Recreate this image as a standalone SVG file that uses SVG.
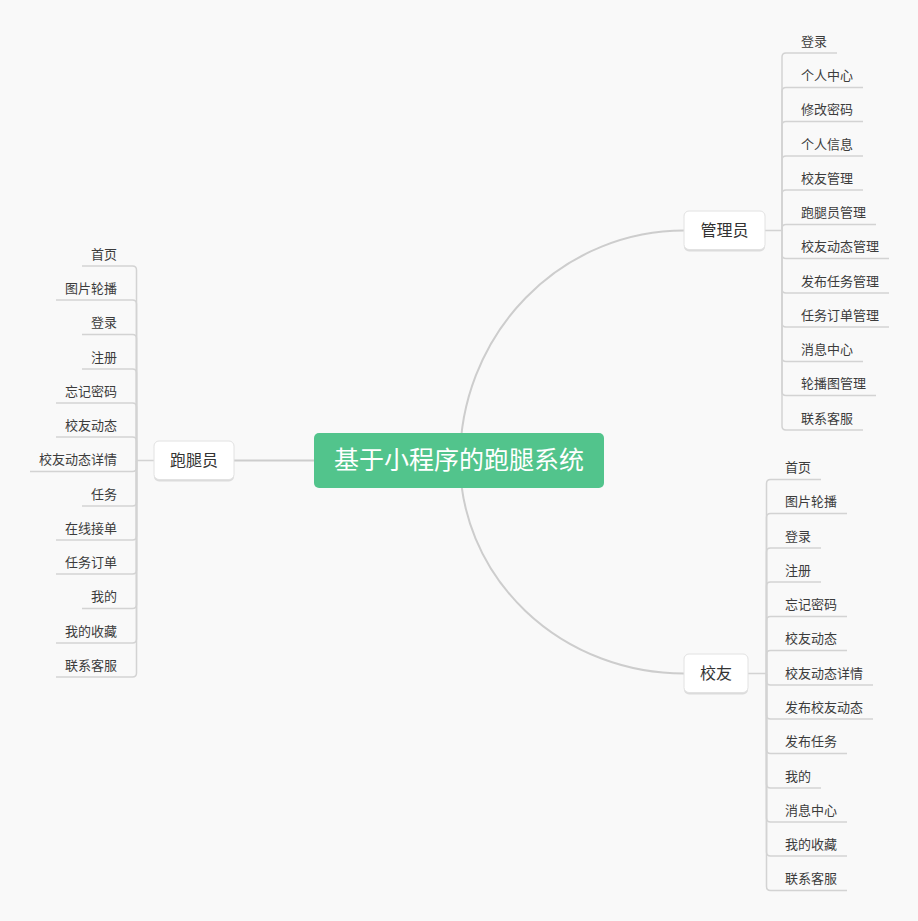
<svg xmlns="http://www.w3.org/2000/svg" width="918" height="921" viewBox="0 0 918 921">
<style>
.bg{fill:#f9f9f9}
.ln{fill:none;stroke:#d3d3d3;stroke-width:1.5}
.cv{fill:none;stroke:#cdcdcd;stroke-width:2}
.lf{font-family:"Noto Sans CJK SC","Noto Sans",sans-serif;font-size:13px;fill:#3c3c3c;dominant-baseline:central}
.nd{font-family:"Noto Sans CJK SC","Noto Sans",sans-serif;font-size:16px;fill:#333;text-anchor:middle;dominant-baseline:central}
.box{fill:#fff;stroke:#e2e2e2;stroke-width:1}
.sh{fill:#dcdcdc}
</style>
<rect class="bg" x="0" y="0" width="918" height="921"/>
<g id="connectors">
<path class="cv" d="M460,460 A224,230 0 0 1 684,230.5"/>
<path class="cv" d="M460,460 A224,213 0 0 0 684,673.5"/>
<path class="cv" d="M234,460.5 H314"/>
<path class="ln" d="M765,230.5 H782 V57 Q782,53 786,53 H837"/>
<path class="ln" d="M782,230.5 V91.5 Q782,87.5 786,87.5 H863"/>
<path class="ln" d="M782,230.5 V125.5 Q782,121.5 786,121.5 H863"/>
<path class="ln" d="M782,230.5 V160 Q782,156 786,156 H863"/>
<path class="ln" d="M782,230.5 V194 Q782,190 786,190 H863"/>
<path class="ln" d="M782,230.5 V228.5 Q782,224.5 786,224.5 H876"/>
<path class="ln" d="M782,230.5 V254.5 Q782,258.5 786,258.5 H889"/>
<path class="ln" d="M782,230.5 V289 Q782,293 786,293 H889"/>
<path class="ln" d="M782,230.5 V323 Q782,327 786,327 H889"/>
<path class="ln" d="M782,230.5 V357.5 Q782,361.5 786,361.5 H863"/>
<path class="ln" d="M782,230.5 V391.5 Q782,395.5 786,395.5 H876"/>
<path class="ln" d="M782,230.5 V426 Q782,430 786,430 H863"/>
<path class="ln" d="M748,673.5 H766.5 V483.5 Q766.5,479.5 770.5,479.5 H821"/>
<path class="ln" d="M766.5,673.5 V517.5 Q766.5,513.5 770.5,513.5 H847"/>
<path class="ln" d="M766.5,673.5 V552 Q766.5,548 770.5,548 H821"/>
<path class="ln" d="M766.5,673.5 V586 Q766.5,582 770.5,582 H821"/>
<path class="ln" d="M766.5,673.5 V620.5 Q766.5,616.5 770.5,616.5 H847"/>
<path class="ln" d="M766.5,673.5 V654.5 Q766.5,650.5 770.5,650.5 H847"/>
<path class="ln" d="M766.5,673.5 V681 Q766.5,685 770.5,685 H873"/>
<path class="ln" d="M766.5,673.5 V715 Q766.5,719 770.5,719 H873"/>
<path class="ln" d="M766.5,673.5 V749.5 Q766.5,753.5 770.5,753.5 H847"/>
<path class="ln" d="M766.5,673.5 V784 Q766.5,788 770.5,788 H821"/>
<path class="ln" d="M766.5,673.5 V818 Q766.5,822 770.5,822 H847"/>
<path class="ln" d="M766.5,673.5 V852 Q766.5,856 770.5,856 H847"/>
<path class="ln" d="M766.5,673.5 V886.5 Q766.5,890.5 770.5,890.5 H847"/>
<path class="ln" d="M154,460.5 H136.5 V270 Q136.5,266 132.5,266 H82"/>
<path class="ln" d="M136.5,460.5 V304 Q136.5,300 132.5,300 H56"/>
<path class="ln" d="M136.5,460.5 V338.5 Q136.5,334.5 132.5,334.5 H82"/>
<path class="ln" d="M136.5,460.5 V373 Q136.5,369 132.5,369 H82"/>
<path class="ln" d="M136.5,460.5 V407 Q136.5,403 132.5,403 H56"/>
<path class="ln" d="M136.5,460.5 V441 Q136.5,437 132.5,437 H56"/>
<path class="ln" d="M136.5,460.5 V467.5 Q136.5,471.5 132.5,471.5 H30"/>
<path class="ln" d="M136.5,460.5 V502 Q136.5,506 132.5,506 H82"/>
<path class="ln" d="M136.5,460.5 V536 Q136.5,540 132.5,540 H56"/>
<path class="ln" d="M136.5,460.5 V570 Q136.5,574 132.5,574 H56"/>
<path class="ln" d="M136.5,460.5 V604.5 Q136.5,608.5 132.5,608.5 H82"/>
<path class="ln" d="M136.5,460.5 V639 Q136.5,643 132.5,643 H56"/>
<path class="ln" d="M136.5,460.5 V673 Q136.5,677 132.5,677 H56"/>
</g>
<g id="root">
<rect x="314" y="433" width="290" height="55" rx="5" fill="#52c48c"/>
<text x="459" y="458" font-family="Noto Sans CJK SC, Noto Sans, sans-serif" font-size="25" fill="#fff" text-anchor="middle" dominant-baseline="central">基于小程序的跑腿系统</text>
</g>
<g id="admin">
<rect class="sh" x="684" y="212.5" width="81" height="39" rx="5"/>
<rect class="box" x="684" y="211" width="81" height="38.5" rx="5"/>
<text class="nd" x="724.5" y="228.5">管理员</text>
</g>
<g id="alumni">
<rect class="sh" x="684" y="655.5" width="64" height="39" rx="5"/>
<rect class="box" x="684" y="654" width="64" height="38.5" rx="5"/>
<text class="nd" x="716" y="671.5">校友</text>
</g>
<g id="runner">
<rect class="sh" x="154" y="442.5" width="80" height="39" rx="5"/>
<rect class="box" x="154" y="441" width="80" height="38.5" rx="5"/>
<text class="nd" x="194" y="458.5">跑腿员</text>
</g>
<g id="admin-leaves" transform="translate(0,-1.5)">
<text class="lf" x="801" y="41.5">登录</text>
<text class="lf" x="801" y="76">个人中心</text>
<text class="lf" x="801" y="110">修改密码</text>
<text class="lf" x="801" y="144.5">个人信息</text>
<text class="lf" x="801" y="178.5">校友管理</text>
<text class="lf" x="801" y="213">跑腿员管理</text>
<text class="lf" x="801" y="247">校友动态管理</text>
<text class="lf" x="801" y="281.5">发布任务管理</text>
<text class="lf" x="801" y="315.5">任务订单管理</text>
<text class="lf" x="801" y="350">消息中心</text>
<text class="lf" x="801" y="384">轮播图管理</text>
<text class="lf" x="801" y="418.5">联系客服</text>
</g>
<g id="alumni-leaves" transform="translate(0,-1.5)">
<text class="lf" x="785" y="468">首页</text>
<text class="lf" x="785" y="502">图片轮播</text>
<text class="lf" x="785" y="536.5">登录</text>
<text class="lf" x="785" y="570.5">注册</text>
<text class="lf" x="785" y="605">忘记密码</text>
<text class="lf" x="785" y="639">校友动态</text>
<text class="lf" x="785" y="673.5">校友动态详情</text>
<text class="lf" x="785" y="707.5">发布校友动态</text>
<text class="lf" x="785" y="742">发布任务</text>
<text class="lf" x="785" y="776.5">我的</text>
<text class="lf" x="785" y="810.5">消息中心</text>
<text class="lf" x="785" y="844.5">我的收藏</text>
<text class="lf" x="785" y="879">联系客服</text>
</g>
<g id="runner-leaves" text-anchor="end" transform="translate(0,-1.5)">
<text class="lf" x="117" y="254.5">首页</text>
<text class="lf" x="117" y="288.5">图片轮播</text>
<text class="lf" x="117" y="323">登录</text>
<text class="lf" x="117" y="357.5">注册</text>
<text class="lf" x="117" y="391.5">忘记密码</text>
<text class="lf" x="117" y="425.5">校友动态</text>
<text class="lf" x="117" y="460">校友动态详情</text>
<text class="lf" x="117" y="494.5">任务</text>
<text class="lf" x="117" y="528.5">在线接单</text>
<text class="lf" x="117" y="562.5">任务订单</text>
<text class="lf" x="117" y="597">我的</text>
<text class="lf" x="117" y="631.5">我的收藏</text>
<text class="lf" x="117" y="665.5">联系客服</text>
</g>
</svg>
